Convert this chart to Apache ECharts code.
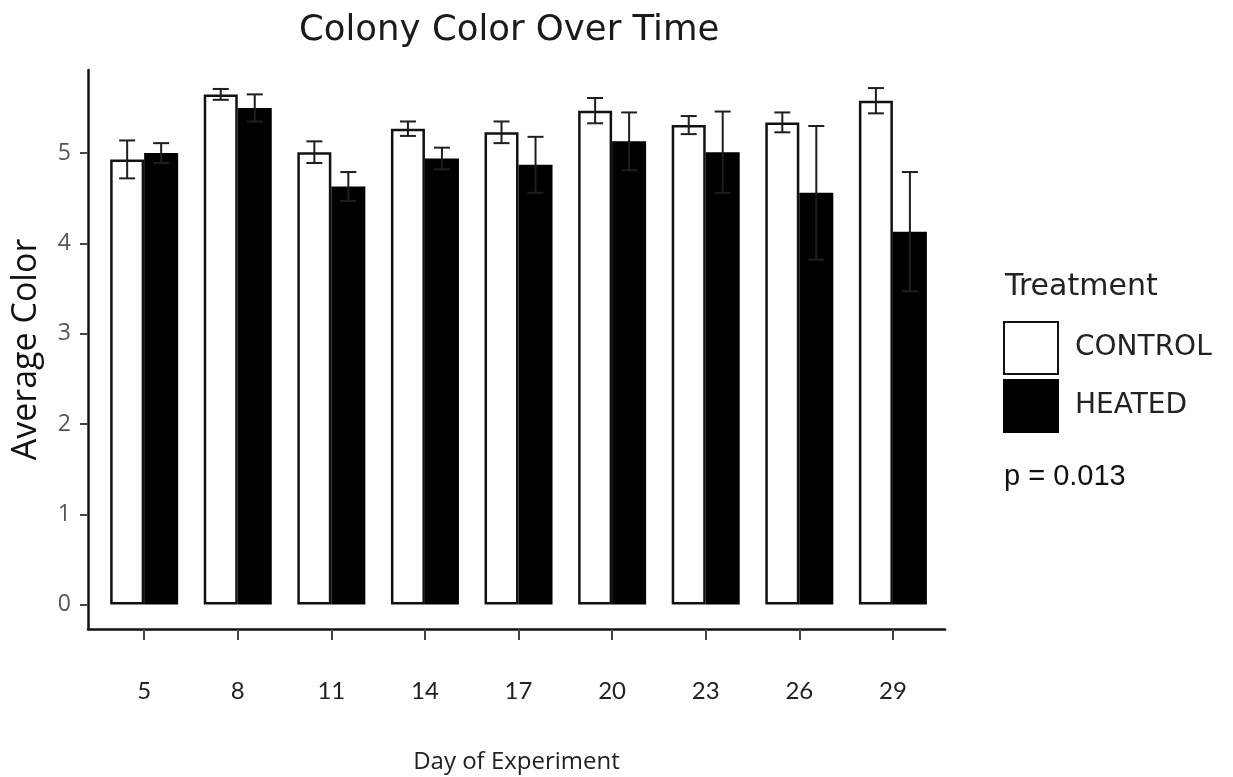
<!DOCTYPE html>
<html>
<head>
<meta charset="utf-8">
<script src="https://cdn.jsdelivr.net/npm/echarts@6/dist/echarts.min.js"></script>
<style>html,body{margin:0;padding:0;background:#fff}#main{width:1233px;height:777px}</style>
</head>
<body>
<div id="main"></div>
<script>
const days = [5, 8, 11, 14, 17, 20, 23, 26, 29];
const controlMean = [4.93, 5.65, 5.01, 5.27, 5.23, 5.47, 5.31, 5.34, 5.58];
const controlErr = [0.21, 0.06, 0.12, 0.08, 0.12, 0.14, 0.10, 0.11, 0.14];
const heatedMean = [5.00, 5.50, 4.63, 4.94, 4.87, 5.13, 5.01, 4.56, 4.13];
const heatedErr = [0.11, 0.15, 0.16, 0.12, 0.31, 0.32, 0.45, 0.74, 0.66];
const yTicks = [0, 1, 2, 3, 4, 5];

const BAR_W = 34;
const CAP_W = 16;

function barData(means) { return days.map((d, i) => [d, means[i]]); }
function errData(means, errs) { return days.map((d, i) => [d, means[i] - errs[i], means[i] + errs[i]]); }

function errRender(shift) {
  return function (params, api) {
    const x = api.value(0);
    const lo = api.coord([x, api.value(1)]);
    const hi = api.coord([x, api.value(2)]);
    const cx = lo[0] + shift;
    const style = { stroke: '#1e1e1e', lineWidth: 2, fill: null };
    return {
      type: 'group',
      children: [
        { type: 'line', shape: { x1: cx, y1: lo[1], x2: cx, y2: hi[1] }, style: style },
        { type: 'line', shape: { x1: cx - CAP_W / 2, y1: hi[1], x2: cx + CAP_W / 2, y2: hi[1] }, style: style },
        { type: 'line', shape: { x1: cx - CAP_W / 2, y1: lo[1], x2: cx + CAP_W / 2, y2: lo[1] }, style: style }
      ]
    };
  };
}

const chart = echarts.init(document.getElementById('main'));
chart.setOption({
  backgroundColor: '#fff',
  animation: false,
  title: [
    { text: 'Colony Color Over Time', left: 294, top: 8,
      textStyle: { fontFamily: 'DejaVu Sans', fontSize: 35.5, fontWeight: 'normal', color: '#1a1a1a' } },
    { text: 'Treatment', left: 1000, top: 267,
      textStyle: { fontFamily: 'DejaVu Sans', fontSize: 30, fontWeight: 'normal', color: '#222' } },
    { text: 'p = 0.013', left: 999, top: 457,
      textStyle: { fontFamily: 'Liberation Sans', fontSize: 29, fontWeight: 'normal', color: '#111' } }
  ],
  legend: {
    orient: 'vertical', left: 1003, top: 321, padding: 0,
    itemWidth: 54, itemHeight: 52, itemGap: 4, icon: 'rect',
    data: ['CONTROL', 'HEATED'],
    textStyle: { fontFamily: 'DejaVu Sans', fontSize: 28, color: '#222', padding: [4, 0, 0, 12] }
  },
  grid: { left: 88, right: 288, top: 70, bottom: 148, outerBoundsMode: 'none', containLabel: false },
  xAxis: {
    type: 'value', min: 3.2, max: 30.67,
    name: 'Day of Experiment', nameLocation: 'middle', nameGap: 121,
    nameTextStyle: { fontFamily: 'Open Sans', fontSize: 24, color: '#222' },
    splitLine: { show: false },
    axisLine: { onZero: false, lineStyle: { color: '#111', width: 2.5 } },
    axisTick: { show: true, customValues: days, length: 11, lineStyle: { color: '#444', width: 2 } },
    axisLabel: { customValues: days, margin: 50, fontFamily: 'Lato', fontSize: 24, color: '#222' }
  },
  yAxis: {
    type: 'value', min: -0.27, max: 5.92,
    name: 'Average Color', nameLocation: 'middle', nameGap: 45, nameRotate: 90,
    nameTextStyle: { fontFamily: 'Open Sans', fontSize: 34, color: '#111' },
    splitLine: { show: false },
    axisLine: { show: true, lineStyle: { color: '#111', width: 2.5 } },
    axisTick: { show: true, customValues: yTicks, length: 8, lineStyle: { color: '#444', width: 2 } },
    axisLabel: { customValues: yTicks, margin: 17, fontFamily: 'Open Sans', fontSize: 23, color: '#555' }
  },
  series: [
    { name: 'CONTROL', type: 'bar', barWidth: BAR_W, barGap: '0%', data: barData(controlMean),
      itemStyle: { color: '#fff', borderColor: '#111', borderWidth: 2.5 } },
    { name: 'HEATED', type: 'bar', barWidth: BAR_W, barGap: '0%', data: barData(heatedMean),
      itemStyle: { color: '#000', borderColor: '#000', borderWidth: 2.5 } },
    { name: 'CONTROL err', type: 'custom', data: errData(controlMean, controlErr),
      renderItem: errRender(-BAR_W / 2), encode: { x: 0, y: [1, 2] }, z: 5 },
    { name: 'HEATED err', type: 'custom', data: errData(heatedMean, heatedErr),
      renderItem: errRender(BAR_W / 2), encode: { x: 0, y: [1, 2] }, z: 5 }
  ]
});
</script>
</body>
</html>
